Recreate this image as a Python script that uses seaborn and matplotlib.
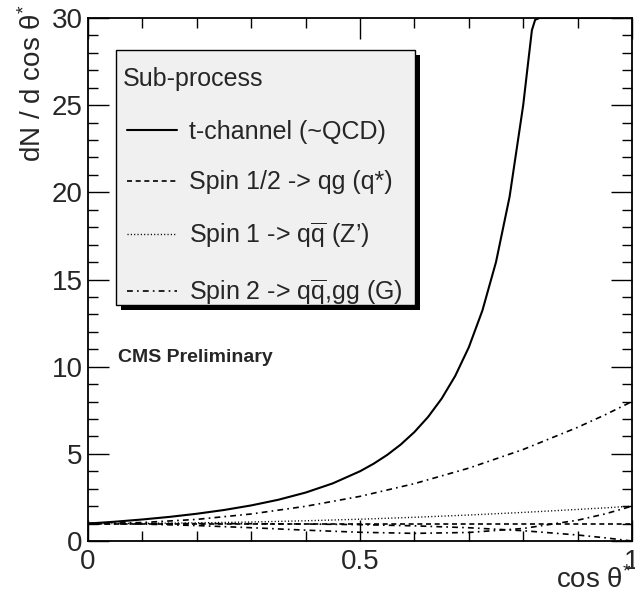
import matplotlib
matplotlib.use("Agg")
import matplotlib.pyplot as plt
from matplotlib.patches import Rectangle
import seaborn as sns

# cos(theta*) sampling for the angular distributions
cos_t = [0.0, 0.05, 0.10, 0.15, 0.20, 0.25, 0.30, 0.35, 0.40, 0.45, 0.50,
         0.525, 0.55, 0.575, 0.60, 0.625, 0.65, 0.675, 0.70, 0.725, 0.75,
         0.775, 0.80, 0.81, 0.816, 0.822, 0.83, 1.0]
tchannel = [1.00, 1.108, 1.235, 1.384, 1.563, 1.778, 2.041, 2.367, 2.778, 3.306, 4.00,
            4.432, 4.938, 5.536, 6.25, 7.111, 8.163, 9.467, 11.11, 13.22, 16.0,
            19.75, 25.0, 27.7, 29.3, 29.9, 30.0, 30.0]

cos_flat = [0.0, 1.0]
spin_half = [1.0, 1.0]

cos_s = [0.0, 0.1, 0.2, 0.3, 0.4, 0.5, 0.6, 0.7, 0.8, 0.9, 0.95, 1.0]
spin_one = [1.00, 1.01, 1.04, 1.09, 1.16, 1.25, 1.36, 1.49, 1.64, 1.81, 1.90, 2.00]
spin_two_gg = [1.00, 1.06, 1.24, 1.55, 1.99, 2.56, 3.29, 4.18, 5.25, 6.52, 7.23, 8.00]
spin_two_qq = [1.00, 0.97, 0.886, 0.762, 0.622, 0.50, 0.438, 0.490, 0.718, 1.194, 1.55, 2.00]
spin_two_mix = [1.00, 1.00, 0.998, 0.992, 0.974, 0.938, 0.870, 0.760, 0.590, 0.344, 0.185, 0.00]

legend_title = "Sub-process"
labels = ["t-channel (~QCD)",
          "Spin 1/2 -> qg (q*)",
          r"Spin 1 -> q$\overline{\mathrm{q}}$ (Z’)",
          r"Spin 2 -> q$\overline{\mathrm{q}}$,gg (G)"]

sns.set_style("ticks")
plt.rcParams["font.family"] = ["Liberation Sans", "DejaVu Sans"]
plt.rcParams["mathtext.fontset"] = "custom"
plt.rcParams["mathtext.rm"] = "Liberation Sans"
plt.rcParams["mathtext.it"] = "Liberation Sans:italic"

W, H = 635, 597
fig = plt.figure(figsize=(W / 100, H / 100), dpi=100)
ax = fig.add_axes([88 / W, 1 - 541 / H, (632 - 88) / W, (541 - 18) / H])


def fx(px):
    return px / W


def fy(py):
    return 1 - py / H


dashed = (0, (3.0, 2.2))
dotted = (0, (0.8, 1.6))
dashdot = (0, (3.5, 2.5, 1.0, 2.5))

sns.lineplot(x=cos_t, y=tchannel, ax=ax, color="black", lw=1.5,
             linestyle="-", label=labels[0], sort=False)
sns.lineplot(x=cos_flat, y=spin_half, ax=ax, color="black", lw=1.2,
             linestyle=dashed, label=labels[1], sort=False)
sns.lineplot(x=cos_s, y=spin_one, ax=ax, color="black", lw=1.0,
             linestyle=dotted, label=labels[2], sort=False)
sns.lineplot(x=cos_s, y=spin_two_gg, ax=ax, color="black", lw=1.2,
             linestyle=dashdot, label=labels[3], sort=False)
sns.lineplot(x=cos_s, y=spin_two_qq, ax=ax, color="black", lw=1.2,
             linestyle=dashdot, label="_nolegend_", sort=False)
sns.lineplot(x=cos_s, y=spin_two_mix, ax=ax, color="black", lw=1.2,
             linestyle=dashdot, label="_nolegend_", sort=False)

ax.set_xlim(0, 1)
ax.set_ylim(0, 30)
ax.set_xticks([0, 0.5, 1])
ax.set_xticklabels(["0", "0.5", "1"])
ax.set_xticks([i / 10 for i in range(11)], minor=True)
ax.set_yticks([0, 5, 10, 15, 20, 25, 30])
ax.set_yticks(list(range(31)), minor=True)
ax.tick_params(which="both", direction="in", top=True, right=True,
               color="black", width=1.0)
ax.tick_params(which="major", length=15, labelsize=20)
ax.tick_params(which="minor", length=7.5)
ax.tick_params(axis="x", which="major", pad=6)
ax.tick_params(axis="y", which="major", pad=4)
for s in ax.spines.values():
    s.set_linewidth(1.3)
    s.set_color("black")
ax.set_xlabel("")
ax.set_ylabel("")

fig.text(fx(632), fy(580), "cos θ$^{*}$", fontsize=20, ha="right", va="center")
fig.text(fx(33), fy(4), "dN / d cos θ$^{*}$", fontsize=20, rotation=90,
         ha="center", va="top")

# legend box with a solid drop shadow
x0, y0, x1, y1 = 116, 50, 415, 305
ax.add_patch(Rectangle((fx(x0 + 5), fy(y1 + 5)), fx(x1 - x0), (y1 - y0) / H,
                       transform=fig.transFigure, facecolor="black",
                       edgecolor="black", lw=0, zorder=4, clip_on=False))
ax.add_patch(Rectangle((fx(x0), fy(y1)), fx(x1 - x0), (y1 - y0) / H,
                       transform=fig.transFigure, facecolor="#f0f0f0",
                       edgecolor="black", lw=1.0, zorder=4.5, clip_on=False))
fig.text(fx(123), fy(79), legend_title, fontsize=18, ha="left", va="center",
         zorder=6)

leg = ax.legend(loc="upper left", bbox_to_anchor=(fx(127), fy(120)),
                bbox_transform=fig.transFigure, fontsize=18,
                frameon=False, handlelength=2.0, handletextpad=0.48,
                labelspacing=1.05, borderpad=0, borderaxespad=0)
leg.set_zorder(6)

fig.text(fx(118), fy(357), "CMS Preliminary", fontsize=14,
         fontweight="bold", ha="left", va="center")

fig.savefig("out.png", dpi=100)
